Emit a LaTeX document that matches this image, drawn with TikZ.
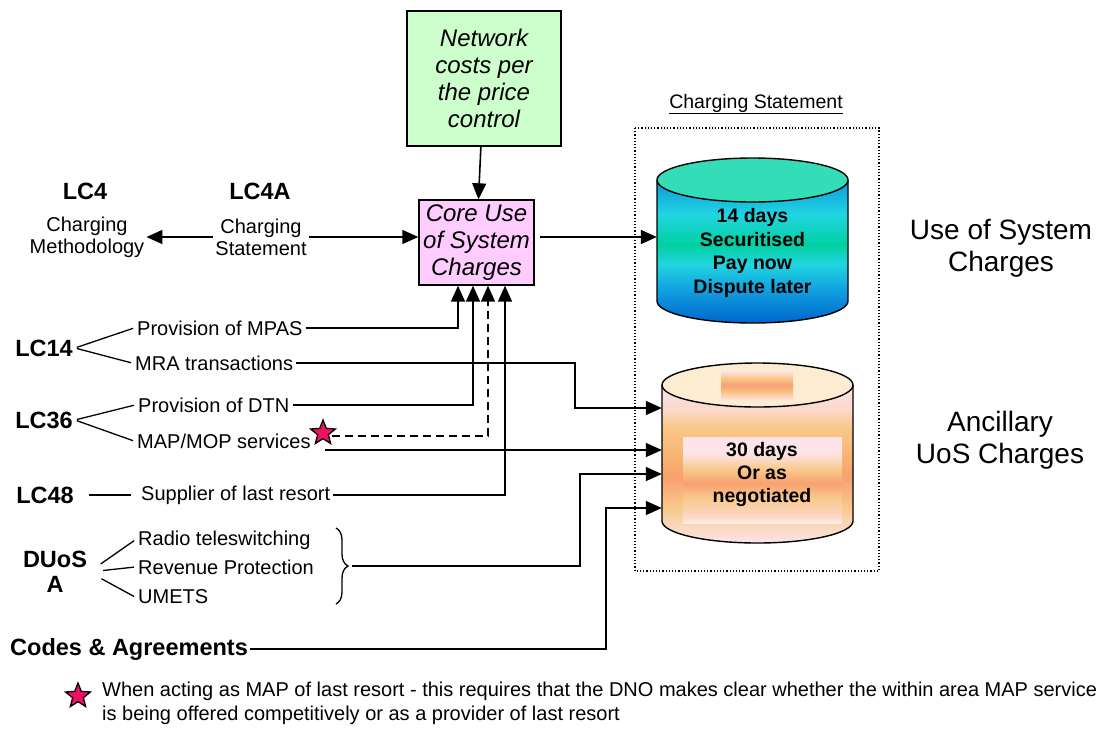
\documentclass[tikz,border=0pt]{standalone}
\usepackage{fontspec}
\setmainfont{Liberation Sans}
\usetikzlibrary{arrows.meta, positioning, shapes.geometric, decorations.pathreplacing, calc}
\definecolor{NetGreen}{RGB}{204, 255, 204}
\definecolor{CorePink}{RGB}{255, 204, 255}
\definecolor{StarRed}{RGB}{238, 17, 102}
\definecolor{CapTeal}{RGB}{51, 221, 184}
\definecolor{CapCream}{RGB}{252, 236, 210}
\definecolor{UosA}{RGB}{0, 102, 204}
\definecolor{UosB}{RGB}{16, 160, 224}
\definecolor{UosC}{RGB}{34, 213, 224}
\definecolor{UosD}{RGB}{0, 208, 160}
\definecolor{UosE}{RGB}{10, 153, 221}
\definecolor{AncPink}{RGB}{252, 228, 232}
\definecolor{AncGold}{RGB}{249, 200, 138}
\definecolor{AncSalmon}{RGB}{248, 160, 112}
\definecolor{AncOrange}{RGB}{248, 176, 112}
\definecolor{AncPeach}{RGB}{251, 216, 200}
\definecolor{AncCream}{RGB}{253, 239, 224}
\pgfdeclareverticalshading{uosbody}{100bp}{color(0bp)=(UosA); color(25bp)=(UosA);
  color(36.5bp)=(UosB); color(45.6bp)=(UosC); color(52.3bp)=(UosD); color(62.8bp)=(UosC);
  color(75bp)=(UosE); color(100bp)=(UosE)}
\pgfdeclareverticalshading{ancbody}{100bp}{color(0bp)=(AncPink); color(25bp)=(AncPink);
  color(36.4bp)=(AncGold); color(45.9bp)=(AncSalmon); color(51bp)=(AncOrange);
  color(61.7bp)=(AncGold); color(67bp)=(AncPeach); color(75bp)=(AncPink); color(100bp)=(AncPink)}
\pgfdeclareverticalshading{ancinner}{100bp}{color(0bp)=(AncCream); color(25bp)=(AncCream);
  color(28.5bp)=(AncPeach); color(40bp)=(AncGold); color(48bp)=(AncSalmon); color(56bp)=(AncGold);
  color(65.7bp)=(AncPink); color(75bp)=(AncPink); color(100bp)=(AncPink)}
\pgfdeclareverticalshading{anctop}{100bp}{color(0bp)=(AncPink); color(25bp)=(AncPink);
  color(37bp)=(AncGold); color(50bp)=(AncSalmon); color(63bp)=(AncGold); color(75bp)=(AncPink);
  color(100bp)=(AncPink)}
\tikzset{
  lbl/.style={font=\fontsize{20}{22}\selectfont, inner sep=2pt, align=center},
  lcname/.style={font=\fontsize{23.5}{25}\selectfont\bfseries, inner sep=2pt, align=center},
  item/.style={font=\fontsize{20}{22}\selectfont, inner sep=3pt, anchor=west},
  boxtxt/.style={draw, line width=1.4pt, font=\fontsize{24}{27}\selectfont\itshape, align=center, inner sep=2pt},
  cyltxt/.style={font=\fontsize{19.5}{23.5}\selectfont\bfseries, align=center},
  bigtxt/.style={font=\fontsize{28}{32}\selectfont, align=center},
  arr/.style={-{Triangle[length=16pt, width=14pt]}, line width=1.6pt},
  link/.style={line width=1.3pt},
  lrmark/.style={star, star points=5, star point ratio=2.3, draw, fill=StarRed, line width=1.3pt, inner sep=0, minimum size=26pt},
}
\begin{document}
\begin{tikzpicture}[x=1pt, y=-1pt]
\useasboundingbox (0,0) rectangle (1102,729);
% statement frame and cylinders
\node[font=\fontsize{19.5}{22}\selectfont] (stmthead) at (756,104) {\underline{Charging Statement}};
\draw[dotted, line width=1.2pt] (635,128) rectangle (879,571);
\shade[shading=uosbody] (657,180) -- (657,301) arc[start angle=180, end angle=360, x radius=95.5pt, y radius=22pt] -- (848,180) -- cycle;
\draw[line width=1.4pt] (657,180) -- (657,301) arc[start angle=180, end angle=360, x radius=95.5pt, y radius=22pt] -- (848,180);
\filldraw[fill=CapTeal, line width=1.4pt] (752.5,180) ellipse[x radius=95.5pt, y radius=22pt];
\node[inner sep=0, minimum width=191pt, minimum height=165pt] (uos) at (752.5,240.5) {};
\node[cyltxt] (uostxt) at (752.5,253) {14 days\\Securitised\\Pay now\\Dispute later};
\shade[shading=ancbody] (662,385) -- (662,521) arc[start angle=180, end angle=360, x radius=95.5pt, y radius=22pt] -- (853,385) -- cycle;
\draw[line width=1.4pt] (662,385) -- (662,521) arc[start angle=180, end angle=360, x radius=95.5pt, y radius=22pt] -- (853,385);
\filldraw[fill=CapCream, line width=1.4pt] (757.5,385) ellipse[x radius=95.5pt, y radius=22pt];
\shade[shading=anctop] (721,371) rectangle (793,400);
\shade[shading=ancinner] (683,437) rectangle (842,523);
\node[inner sep=0, minimum width=191pt, minimum height=180pt] (anc) at (757.5,453) {};
\node[cyltxt, font=\fontsize{19.5}{23}\selectfont\bfseries] (anctxt) at (762,474) {30 days\\Or as\\negotiated};
\node[bigtxt] (uoslbl) at (1001,248) {Use of System\\Charges};
\node[bigtxt] (anclbl) at (1000,440) {Ancillary\\UoS Charges};
% cost boxes
\node[boxtxt, fill=NetGreen, minimum width=154pt, minimum height=135pt] (netcost) at (484,78.5) {Network\\costs per\\the price\\control};
\node[boxtxt, fill=CorePink, minimum width=115pt, minimum height=85pt] (core) at (476.5,242.5) {Core Use\\of System\\Charges};
\draw[arr] (netcost) -- (core);
% licence conditions
\node[lcname] (lc4) at (85,191) {LC4};
\node[lbl] (meth) at (87,237) {Charging\\Methodology};
\node[lcname] (lc4a) at (260,191) {LC4A};
\node[lbl] (stmt) at (261,237) {Charging\\Statement};
\draw[arr] (stmt.west) -- (meth.east);
\draw[arr] (stmt.east) -- (core.west |- stmt.east);
\draw[arr, shorten <=5pt] (core.east |- stmt.east) -- (uos.west |- stmt.east);
\node[lcname] (lc14) at (44,348) {LC14};
\node[item] (mpas) at (134,328) {Provision of MPAS};
\node[item] (mra) at (132,363) {MRA transactions};
\node[lcname] (lc36) at (44,420) {LC36};
\node[item] (dtn) at (135,405) {Provision of DTN};
\node[item] (mapmop) at (134,441) {MAP/MOP services};
\node[lcname] (lc48) at (45,495) {LC48};
\node[item] (sup) at (138,495) {Supplier of last resort};
\node[lcname] (duos) at (55,572) {DUoS\\A};
\node[item] (radio) at (135,540) {Radio teleswitching};
\node[item] (rev) at (135,567) {Revenue Protection};
\node[item] (umets) at (135,597) {UMETS};
\node[lcname, anchor=west] (codes) at (8,649) {Codes \& Agreements};
\foreach \a/\b in {lc14/mpas, lc14/mra, lc36/dtn, lc36/mapmop} {
  \draw[link, shorten <=2pt, shorten >=1pt] (\a.east) -- (\b.west);
}
\draw[link, shorten <=13pt, shorten >=7pt] (lc48.east) -- (sup.west);
\foreach \b in {radio, rev, umets} {
  \draw[link, shorten <=14pt, shorten >=1pt] (duos.east) -- (\b.west);
}
\draw[link, decorate, decoration={brace, amplitude=12pt}] (336,528) -- (336,604);
\coordinate (bracetip) at (352,566);
% connectors
\node[lrmark] (lrstar) at (323,433) {};
\coordinate (mrabend) at (575,408);
\coordinate (mapline) at (325,450);
\coordinate (bracebend) at (580,474);
\coordinate (codebend) at (606,508);
\draw[arr] (mpas.east) -| ([xshift=-18.5pt]core.south);
\draw[arr] (dtn.east) -| ([xshift=-3.5pt]core.south);
\draw[arr, dash pattern=on 8pt off 5pt] (lrstar.east |- 0,436) -| ([xshift=11.5pt]core.south);
\draw[arr] (sup.east) -| ([xshift=28.5pt]core.south);
\draw[arr] (mra.east) -| (mrabend) -- (mrabend -| anc.west);
\draw[arr] (mapline) -- (mapline -| anc.west);
\draw[arr] (bracetip) -| (bracebend) -- (bracebend -| anc.west);
\draw[arr] (codes.east) -| (codebend) -- (codebend -| anc.west);
% footnote
\node[lrmark] (notestar) at (78,696) {};
\node[font=\fontsize{20}{23.5}\selectfont, align=left, anchor=north west, inner sep=0] (note) at (102,682) {When acting as MAP of last resort - this requires that the DNO makes clear whether the within area MAP service\\is being offered competitively or as a provider of last resort};
\end{tikzpicture}
\end{document}
